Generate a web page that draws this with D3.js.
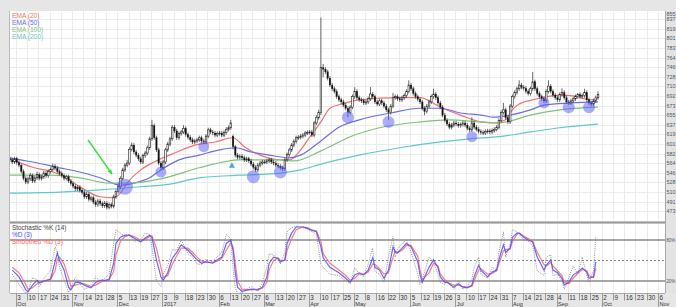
<!DOCTYPE html>
<html><head><meta charset="utf-8">
<script src="https://cdn.jsdelivr.net/npm/d3@7"></script>
<style>body{margin:0;background:#e6e6e6;overflow:hidden}svg{display:block;font-family:"Liberation Sans",Arial,sans-serif}</style>
</head><body><svg id="c" width="676" height="307"></svg>
<script>
// ---------- DATA ----------
const closes=[570,566,572,565,560,548,535,528,534,540,
530,536,542,535,538,545,540,548,552,558,
554,548,544,540,535,538,530,525,520,515,
518,512,508,500,505,495,498,490,485,492,
487,483,488,480,485,482,500,510,519,535,
551,560,564,590,598,585,579,572,566,578,
583,593,610,635,612,589,564,555,566,589,
600,610,632,625,612,620,623,630,618,613,
608,604,606,608,612,606,604,615,627,623,
621,617,620,621,617,622,628,631,640,595,
579,575,577,574,570,572,568,562,556,551,
560,564,566,566,568,570,566,564,560,558,
555,553,570,580,589,598,605,612,613,615,
617,621,622,623,617,640,650,660,745,742,
737,725,712,705,700,690,684,680,674,668,
660,670,690,700,688,684,682,678,680,686,
695,690,680,676,682,678,672,665,660,672,
688,690,686,684,688,692,700,712,705,696,
690,685,680,668,662,672,680,690,695,688,
678,670,655,645,638,632,636,640,638,635,
637,640,636,630,627,640,632,628,624,622,
621,624,625,623,626,628,632,645,660,665,
650,642,672,690,698,705,712,708,706,700,
696,705,718,705,696,690,686,682,700,710,
700,693,688,684,694,698,688,680,678,682,
686,690,694,690,692,698,684,678,676,682,
688,694];
const opens=[572,570,566,572,565,560,548,535,528,534,
540,530,536,542,535,538,545,540,548,552,
558,554,548,544,540,535,538,530,525,520,
515,518,512,508,500,505,495,498,490,485,
492,487,483,488,480,485,482,500,510,519,
535,551,560,564,590,598,585,579,572,566,
578,583,593,610,635,612,589,564,555,566,
589,600,610,632,625,612,620,623,630,618,
613,608,604,606,608,612,606,604,615,627,
623,621,617,620,621,617,622,628,631,615,
595,579,575,577,574,570,572,568,562,556,
551,560,564,566,566,568,570,566,564,560,
558,555,553,570,580,589,598,605,612,613,
615,617,621,622,623,617,640,650,660,745,
742,737,725,712,705,700,690,684,680,674,
668,660,670,690,700,688,684,682,678,680,
686,695,690,680,676,682,678,672,665,660,
672,688,690,686,684,688,692,700,712,705,
696,690,685,680,668,662,672,680,690,695,
688,678,670,655,645,638,632,636,640,638,
635,637,640,636,630,627,640,632,628,624,
622,621,624,625,623,626,628,632,645,660,
665,650,642,672,690,698,705,712,708,706,
700,696,705,718,705,696,690,686,682,700,
710,700,693,688,684,694,698,688,680,678,
682,686,690,694,690,692,698,684,678,676,
682,688];
const highs=[576,574,576,576,569,563,552,539,538,545,
544,540,548,546,542,549,549,552,556,563,
562,558,552,548,544,542,542,534,529,524,
522,522,516,512,509,508,502,502,494,496,
496,491,492,492,489,489,504,514,523,539,
555,564,570,594,603,602,589,583,576,582,
587,597,614,646,639,616,593,568,570,593,
604,614,636,636,629,624,627,636,634,622,
617,612,610,612,616,616,610,619,631,631,
627,625,624,625,625,626,632,635,646,618,
598,583,581,581,578,576,576,572,566,560,
564,568,570,570,572,574,574,570,568,564,
562,559,574,584,593,602,609,616,617,619,
621,625,626,627,627,644,655,665,840,752,
746,741,729,716,709,704,694,688,684,678,
672,674,694,708,704,692,688,686,684,690,
708,699,694,684,686,686,682,676,669,676,
697,694,694,690,692,696,704,721,716,709,
700,694,689,684,672,676,684,694,705,699,
692,682,674,659,649,642,640,644,644,642,
641,644,644,640,634,651,644,636,632,628,
626,628,629,629,630,632,636,649,664,678,
669,654,676,694,702,709,721,716,712,710,
704,709,737,722,709,700,694,690,704,721,
714,704,697,692,698,706,702,692,684,686,
690,694,697,698,696,705,702,688,682,686,
692,700];
const lows=[566,562,562,561,556,544,531,524,524,530,
526,526,532,531,531,534,536,536,544,548,
550,544,540,536,531,531,526,521,516,511,
511,508,504,496,496,491,491,486,481,481,
483,479,479,476,476,478,478,496,506,515,
531,547,556,560,586,581,575,568,562,562,
574,579,589,606,608,585,560,551,551,562,
585,596,606,621,608,608,616,619,614,609,
604,600,600,602,604,602,600,600,611,619,
617,613,613,616,613,613,618,624,627,590,
575,571,571,570,566,566,564,558,552,547,
547,556,560,562,562,564,562,560,556,554,
551,549,549,566,576,585,594,601,608,609,
611,613,617,618,613,613,636,646,655,727,
733,721,708,701,696,686,680,676,670,664,
651,656,666,686,684,680,678,674,674,676,
682,686,676,672,672,674,668,661,646,656,
668,684,682,680,680,684,688,696,701,692,
686,681,676,664,655,658,668,676,686,684,
674,666,651,641,634,628,628,632,634,631,
631,633,632,626,623,623,628,624,620,618,
617,617,620,619,619,622,624,628,641,656,
646,638,638,668,686,694,701,704,702,696,
692,692,701,701,692,686,682,678,678,696,
696,689,684,680,680,690,684,676,674,674,
678,682,686,686,686,688,680,674,672,672,
678,684];

const ema20Idx=[0,10,19,25,31,40,46,49,52,58,64,73,82,91,99,104,111,120,124,129,133,138,142,149,155,173,182,191,200,209,215,220,223,226,234,237,244,251,257,261];
const ema20=[572,556,547,536,519,500,498,507,526,551,566,583,598,604,612,595,579,570,570,589,613,642,668,678,684,688,688,670,655,642,640,646,665,676,686,689,693,691,684,686];
const ema50Idx=[0,10,22,31,40,49,55,62,67,75,84,93,100,107,115,124,129,138,146,155,169,182,191,200,209,215,222,231,237,249,261];
const ema50=[574,566,555,547,536,522,526,536,551,570,579,589,593,585,579,574,579,606,632,646,659,668,668,659,655,651,655,665,674,678,680];
const ema100Idx=[0,18,31,44,53,67,84,102,120,126,138,151,164,182,195,209,217,231,244,261];
const ema100=[541,541,536,526,526,534,555,570,570,568,587,614,631,642,646,642,640,655,665,670];
const ema200Idx=[0,22,40,58,71,84,102,120,129,138,155,173,191,204,217,231,244,261];
const ema200=[507,509,513,519,524,536,541,545,551,562,579,593,604,610,614,623,631,638];

const stochIdx=[1,4,7,8,10,12,13,16,18,20,21,22,24,26,27,29,31,33,36,38,40,42,44,46,47,49,51,53,55,58,60,62,63,65,67,68,70,72,74,76,79,81,83,85,87,90,92,94,96,98,99,100,101,103,107,110,112,114,115,117,119,120,122,123,125,127,130,132,134,136,138,139,142,146,149,151,153,155,157,159,161,162,164,166,168,170,171,172,174,176,178,181,182,183,186,188,190,191,193,194,197,199,201,203,205,206,208,209,212,214,216,217,219,220,222,223,225,226,228,230,232,234,237,238,240,241,243,245,246,248,250,252,254,256,257,259,260];
const pctK=[30,15,2,5,25,22,12,28,35,70,62,40,22,3,10,25,16,8,12,26,20,24,30,75,95,90,85,88,78,80,90,88,70,20,12,30,42,66,65,80,60,55,45,44,52,48,56,62,88,82,40,10,2,3,12,5,18,40,60,58,50,45,62,92,98,100,98,96,92,88,45,40,30,28,20,16,40,30,26,45,68,34,30,18,55,85,55,66,75,80,62,30,15,22,55,48,30,18,15,20,8,20,8,12,22,40,55,30,24,40,36,62,92,55,75,95,92,88,80,78,72,35,28,55,58,28,30,20,8,25,42,30,55,28,18,35,85];
const pctD=[36,26,7,4,14,21,17,21,23,48,61,50,36,11,7,18,18,14,10,18,21,21,22,46,75,84,87,87,83,77,83,87,84,51,26,21,32,53,62,73,65,58,51,46,48,46,51,55,75,80,65,32,11,5,8,7,11,26,46,55,53,48,51,75,90,99,99,97,94,92,70,54,40,32,24,18,29,32,29,36,54,40,36,24,36,70,62,61,68,75,70,48,29,18,40,51,39,26,18,18,11,16,11,10,14,26,43,36,26,33,36,51,73,62,68,84,90,90,84,80,77,55,36,43,51,36,32,24,14,18,29,33,39,33,24,26,48];
const smoothD=[40,32,15,8,10,16,18,20,22,35,52,55,45,25,12,14,16,16,12,14,18,20,22,34,58,78,85,87,85,80,81,85,86,68,40,25,28,44,57,68,68,62,55,49,48,47,49,53,65,76,70,45,20,8,7,8,9,18,36,50,54,50,50,65,82,95,99,98,95,93,78,60,46,36,28,21,24,30,30,33,45,44,38,30,32,55,64,62,65,72,72,56,36,22,32,46,42,30,22,18,14,14,12,11,12,20,36,38,30,31,35,45,64,66,67,78,88,90,86,82,78,62,44,42,47,42,35,28,18,16,24,31,37,35,28,25,38];

const markIdx=[51,67,86,108,120,150,168,205,237,248,257];
const markPrice=[519,547,595,538,547,651,642,614,678,670,670];
const markR=[8,5.5,5.5,6.5,6.5,6,6,5.5,5.5,6,6];
const triIdx=[98.5], triPrice=[560];
const arrowIdx=[34.6,45.3], arrowPrice=[608,543];

const priceTicks=[473,491,510,528,546,564,582,601,619,637,655,673,692,710,728,746,764,783,801,819,837,855];
const dayLabels=["3","10","17","24","31","7","14","21","28","5","13","19","27","3","9","18","23","30","6","13","20","27","6","13","20","27","3","10","17","25","2","8","16","22","30","5","12","19","26","3","10","17","24","31","7","14","21","28","4","11","18","25","2","9","16","23","30","6"];
const monthLabels=["Oct","Nov","Dec","2017","Feb","Mar","Apr","May","Jun","Jul","Aug","Sep","Oct","Nov"];
const monthTickK=[0,5,9,13,18,22,26,30,35,39,44,48,52,57];
const emaLegend=["EMA (20)","EMA (50)","EMA (100)","EMA (200)"];
const emaColors=["#f07272","#6e6ee2","#7cc47c","#5ec9c9"];
const stochLegend=["Stochastic %K (14)","%D (3)","Smoothed %D (3)"];
const stochColors=["#444","#4d4dff","#ff6464"];
const stochLevels=[80,50,20];

// ---------- LAYOUT ----------
const svg=d3.select("#c");
const L=10,R=665,MT=11,MB=221,ST=224,SB=293;
svg.append("rect").attr("width",676).attr("height",307).attr("fill","#e6e6e6");
svg.append("rect").attr("x",L).attr("y",MT).attr("width",R-L).attr("height",MB-MT).attr("fill","#fff");
svg.append("rect").attr("x",L).attr("y",ST).attr("width",R-L).attr("height",SB-ST).attr("fill","#fff");
svg.append("rect").attr("x",R).attr("y",MT).attr("width",676-R).attr("height",SB-MT).attr("fill","#e3e3e3");

const defs=svg.append("defs");
defs.append("clipPath").attr("id","cm").append("rect").attr("x",L).attr("y",MT).attr("width",R-L).attr("height",MB-MT);
defs.append("clipPath").attr("id","cs").append("rect").attr("x",L).attr("y",ST).attr("width",R-L).attr("height",SB-ST);

const x=d3.scaleLinear().domain([0,289]).range([10,10+289*2.253]);
const y=d3.scaleLinear().domain([473,855]).range([211,9.7]);
const ys=d3.scaleLinear().domain([20,80]).range([281,240]);
const tickIdx=dayLabels.map((d,k)=>4+5*k);
const tx=i=>x(i-1.4);

// grid main
const gm=svg.append("g").attr("clip-path","url(#cm)");
gm.selectAll(".hg").data(priceTicks).join("line").attr("x1",L).attr("x2",R)
  .attr("y1",d=>Math.round(y(d))+0.5).attr("y2",d=>Math.round(y(d))+0.5).attr("stroke","#ececec");
gm.selectAll(".vg").data(tickIdx).join("line").attr("y1",MT).attr("y2",MB)
  .attr("x1",d=>Math.round(tx(d))+0.5).attr("x2",d=>Math.round(tx(d))+0.5).attr("stroke","#ececec");

// legend
svg.selectAll(".leg").data(emaLegend).join("text").attr("x",12).attr("y",(d,k)=>17.5+k*7.3)
  .attr("font-size",6.6).attr("fill",(d,k)=>emaColors[k]).text(d=>d);

// EMAs
const emaSets=[[ema20Idx,ema20],[ema50Idx,ema50],[ema100Idx,ema100],[ema200Idx,ema200]];
const ln=d3.line().x(d=>x(d[0])).y(d=>y(d[1])).curve(d3.curveMonotoneX);
emaSets.forEach((s,k)=>{
  gm.append("path").attr("d",ln(s[0].map((d,j)=>[d,s[1][j]]))).attr("fill","none")
    .attr("stroke",emaColors[k]).attr("stroke-width",1.2);
});

// candles
const cg=gm.append("g");
closes.forEach((c,i)=>{
  const o=opens[i],cx=x(i);
  cg.append("line").attr("x1",cx).attr("x2",cx).attr("y1",y(highs[i])).attr("y2",y(lows[i]))
    .attr("stroke","#444").attr("stroke-width",0.8);
  const top=y(Math.max(o,c)),h=Math.max(0.8,Math.abs(y(o)-y(c)));
  cg.append("rect").attr("x",cx-0.8).attr("y",top).attr("width",1.6).attr("height",h)
    .attr("fill",c>=o?"#fff":"#111").attr("stroke","#222").attr("stroke-width",c>=o?0.6:0.2);
});

// markers
gm.selectAll(".mk").data(markIdx).join("circle").attr("cx",d=>x(d)).attr("cy",(d,k)=>y(markPrice[k]))
  .attr("r",(d,k)=>markR[k]).attr("fill","#5a5aff").attr("fill-opacity",0.5);
gm.selectAll(".tri").data(triIdx).join("path")
  .attr("d",(d,k)=>{const cx=x(d),cy=y(triPrice[k]);return `M${cx},${cy-3}L${cx+3},${cy+2.5}L${cx-3},${cy+2.5}Z`;})
  .attr("fill","#4aa7d8");
// arrow
const ax1=x(arrowIdx[0]),ay1=y(arrowPrice[0]),ax2=x(arrowIdx[1]),ay2=y(arrowPrice[1]);
gm.append("line").attr("x1",ax1).attr("y1",ay1).attr("x2",ax2).attr("y2",ay2).attr("stroke","#3ddc3d").attr("stroke-width",1.6);
{const ang=Math.atan2(ay2-ay1,ax2-ax1),s=5;
 const p1=[ax2-s*Math.cos(ang-0.45),ay2-s*Math.sin(ang-0.45)],p2=[ax2-s*Math.cos(ang+0.45),ay2-s*Math.sin(ang+0.45)];
 gm.append("path").attr("d",`M${ax2},${ay2}L${p1}L${p2}Z`).attr("fill","#3ddc3d");}

// right price axis
svg.append("line").attr("x1",R+0.5).attr("x2",R+0.5).attr("y1",MT).attr("y2",SB).attr("stroke","#aaa");
svg.selectAll(".pl").data(priceTicks).join("text").attr("x",R+1.5).attr("y",d=>Math.max(y(d)+2,15.5))
  .attr("font-size",5.4).attr("fill","#555").text(d=>d);

// separator
svg.append("line").attr("x1",L).attr("x2",R).attr("y1",222.5).attr("y2",222.5).attr("stroke","#999").attr("stroke-width",2);
svg.append("line").attr("x1",L-0.5).attr("x2",L-0.5).attr("y1",MT).attr("y2",SB).attr("stroke","#bbb");

// stochastic panel
const gs=svg.append("g").attr("clip-path","url(#cs)");
gs.selectAll(".vg").data(tickIdx).join("line").attr("y1",ST).attr("y2",SB)
  .attr("x1",d=>Math.round(tx(d))+0.5).attr("x2",d=>Math.round(tx(d))+0.5).attr("stroke","#ececec");
gs.selectAll(".lv").data(stochLevels).join("line").attr("x1",L).attr("x2",R)
  .attr("y1",d=>ys(d)).attr("y2",d=>ys(d)).attr("stroke",d=>d===50?"#888":"#8a8a8a")
  .attr("stroke-width",d=>d===50?1:1.5).attr("stroke-dasharray",d=>d===50?"2,2":null);
const sl=d3.line().x(d=>x(d[0])).y(d=>ys(d[1]));
gs.append("path").attr("d",sl(stochIdx.map((d,j)=>[d,pctK[j]]))).attr("fill","none").attr("stroke","#777").attr("stroke-width",0.8).attr("stroke-dasharray","1,1.2");
gs.append("path").attr("d",sl(stochIdx.map((d,j)=>[d,smoothD[j]]))).attr("fill","none").attr("stroke",stochColors[2]).attr("stroke-width",1.2).attr("stroke-opacity",0.85);
gs.append("path").attr("d",sl(stochIdx.map((d,j)=>[d,pctD[j]]))).attr("fill","none").attr("stroke",stochColors[1]).attr("stroke-width",1.2).attr("stroke-opacity",0.85);
svg.selectAll(".sleg").data(stochLegend).join("text").attr("x",12).attr("y",(d,k)=>229.5+k*7.2)
  .attr("font-size",6.4).attr("fill",(d,k)=>stochColors[k]).text(d=>d);
svg.selectAll(".slab").data([80,20]).join("text").attr("x",R+1.2).attr("y",d=>ys(d)+2)
  .attr("font-size",4.6).attr("fill","#555").text(d=>d+"%");
svg.append("line").attr("x1",L).attr("x2",R).attr("y1",SB+0.5).attr("y2",SB+0.5).attr("stroke","#aaa");

// x axis
const xa=svg.append("g");
xa.selectAll(".tk").data(tickIdx).join("line").attr("x1",d=>Math.round(tx(d))+0.5).attr("x2",d=>Math.round(tx(d))+0.5)
  .attr("y1",SB).attr("y2",(d,k)=>monthTickK.includes(k)?307:300.5).attr("stroke","#999");
xa.selectAll(".dl").data(dayLabels).join("text").attr("x",(d,k)=>tx(tickIdx[k])+1.5).attr("y",299.5)
  .attr("font-size",6.3).attr("fill","#333").text(d=>d);
xa.selectAll(".ml").data(monthLabels).join("text").attr("x",(d,k)=>tx(tickIdx[monthTickK[k]])+1.5).attr("y",306.3)
  .attr("font-size",5.6).attr("fill","#333").text(d=>d);
</script></body></html>
